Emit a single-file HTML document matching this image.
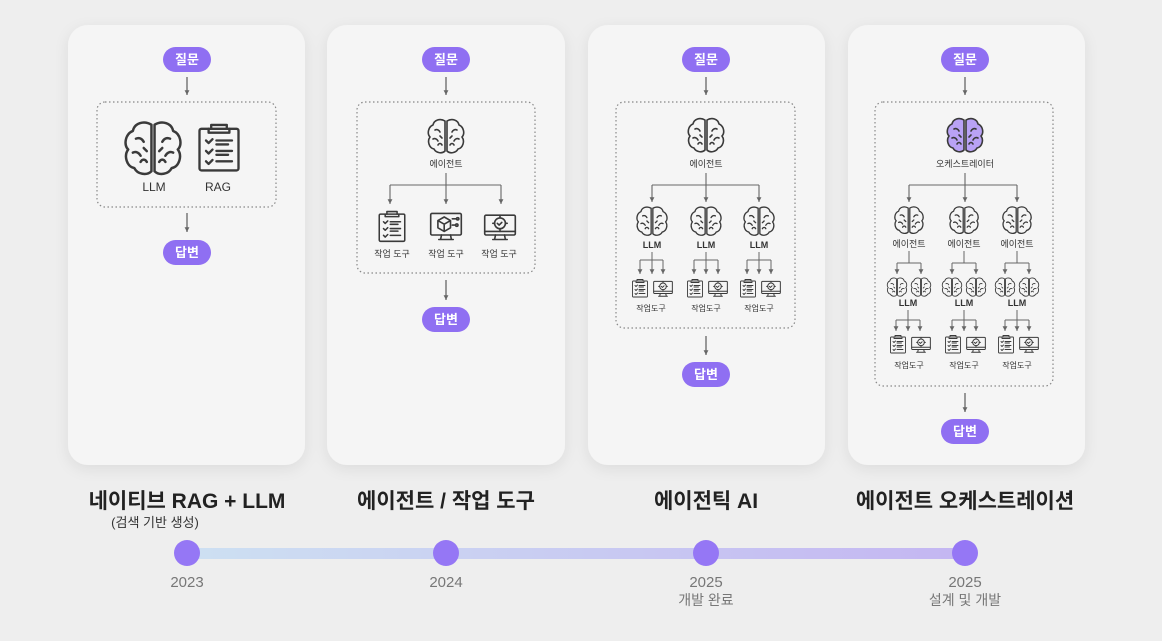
<!DOCTYPE html>
<html><head><meta charset="utf-8"><style>
html,body{margin:0;padding:0;background:#eeeeee;}
svg{display:block;font-family:"Liberation Sans","Noto Sans CJK KR",sans-serif;}
</style></head><body>
<svg width="1162" height="641" viewBox="0 0 1162 641" xmlns="http://www.w3.org/2000/svg">
<defs>
<filter id="sh" x="-20%" y="-20%" width="140%" height="140%"><feDropShadow dx="0" dy="4" stdDeviation="7" flood-color="#000" flood-opacity="0.08"/></filter>
<linearGradient id="tl" x1="0" x2="1"><stop offset="0" stop-color="#cde0f2"/><stop offset="1" stop-color="#c4b6f2"/></linearGradient>
<symbol id="brain" viewBox="0 0 40 40">
<g fill="none" stroke="#3a3a3a" stroke-width="1.6" stroke-linecap="round" stroke-linejoin="round">
<path d="M19 5C14 2 8 4 7 9C2 11 1 18 4 21C1 25 3 32 8 33C10 37 16 38 19 35Z"/>
<path d="M21 5C26 2 32 4 33 9C38 11 39 18 36 21C39 25 37 32 32 33C30 37 24 38 21 35Z"/>
<path d="M9 14C11 13 13 14 14 16M7 23C9 22 11 23 12 25M14 20l2 2M12 29c1-2 3-2 4 0M31 14C29 13 27 14 26 16M33 23C31 22 29 23 28 25M26 20l-2 2M28 29c-1-2-3-2-4 0"/>
</g></symbol>
<symbol id="brainp" viewBox="0 0 40 40">
<g fill="#b9a2f5" stroke="#3a3a3a" stroke-width="1.6" stroke-linecap="round" stroke-linejoin="round">
<path d="M19 5C14 2 8 4 7 9C2 11 1 18 4 21C1 25 3 32 8 33C10 37 16 38 19 35Z"/>
<path d="M21 5C26 2 32 4 33 9C38 11 39 18 36 21C39 25 37 32 32 33C30 37 24 38 21 35Z"/>
<path fill="none" d="M9 14C11 13 13 14 14 16M7 23C9 22 11 23 12 25M14 20l2 2M12 29c1-2 3-2 4 0M31 14C29 13 27 14 26 16M33 23C31 22 29 23 28 25M26 20l-2 2M28 29c-1-2-3-2-4 0"/>
</g></symbol>
<symbol id="clip" viewBox="0 0 40 40">
<g fill="none" stroke="#3a3a3a" stroke-width="1.8" stroke-linecap="round" stroke-linejoin="round">
<rect x="5" y="6" width="30" height="32" rx="1.5"/>
<path d="M14 6V3h12v3M12 6v3h16V6"/>
<path d="M10 15l2 2 3-3M10 23l2 2 3-3M10 31l2 2 3-3M18 15h12M18 18h9M18 23h12M18 26h9M18 31h12"/>
</g></symbol>
<symbol id="mon" viewBox="0 0 40 40">
<g fill="none" stroke="#3a3a3a" stroke-width="1.8" stroke-linecap="round" stroke-linejoin="round">
<rect x="3" y="8" width="34" height="22" rx="1.5"/>
<path d="M3 26h34M15 30l-1 5h12l-1-5M12 35h16"/>
<circle cx="20" cy="17" r="6"/>
<path d="M20 8v2M20 24v2M12 17h2M26 17h2M17 17l2 2 3-3"/>
</g></symbol>
<symbol id="cube" viewBox="0 0 40 40">
<g fill="none" stroke="#3a3a3a" stroke-width="1.8" stroke-linecap="round" stroke-linejoin="round">
<rect x="3" y="6" width="34" height="24" rx="1.5"/>
<path d="M15 30l-1 5h12l-1-5M12 35h16"/>
<path d="M11 14l7-4 7 4v8l-7 4-7-4zM11 14l7 4 7-4M18 18v8M27 12h5M27 19h4"/>
<circle cx="33" cy="12" r="1.3"/><circle cx="32" cy="19" r="1.3"/>
</g></symbol>
<marker id="ar" viewBox="0 0 10 10" refX="9" refY="5" markerWidth="6" markerHeight="6" markerUnits="userSpaceOnUse" orient="auto"><path d="M1 1L9 5L1 9Z" fill="#666"/></marker>
</defs>

<g filter="url(#sh)" fill="#f5f5f5">
<rect x="68" y="25" width="237" height="440" rx="20"/>
<rect x="327" y="25" width="238" height="440" rx="20"/>
<rect x="588" y="25" width="237" height="440" rx="20"/>
<rect x="848" y="25" width="237" height="440" rx="20"/>
</g>

<g fill="#8f6ff2">
<rect x="163" y="47" width="48" height="25" rx="12.5"/><rect x="163" y="240" width="48" height="25" rx="12.5"/>
<rect x="422" y="47" width="48" height="25" rx="12.5"/><rect x="422" y="307" width="48" height="25" rx="12.5"/>
<rect x="682" y="47" width="48" height="25" rx="12.5"/><rect x="682" y="362" width="48" height="25" rx="12.5"/>
<rect x="941" y="47" width="48" height="25" rx="12.5"/><rect x="941" y="419" width="48" height="25" rx="12.5"/>
</g>
<g fill="#fff" font-size="13" font-weight="bold" text-anchor="middle">
<text x="187" y="64">질문</text><text x="187" y="257">답변</text>
<text x="446" y="64">질문</text><text x="446" y="324">답변</text>
<text x="706" y="64">질문</text><text x="706" y="379">답변</text>
<text x="965" y="64">질문</text><text x="965" y="436">답변</text>
</g>

<g stroke="#666" stroke-width="1.3" fill="none" marker-end="url(#ar)">
<path d="M187 77V95"/><path d="M187 213V232"/>
<path d="M446 77V95"/><path d="M446 280V300"/>
<path d="M706 77V95"/><path d="M706 336V355"/>
<path d="M965 77V95"/><path d="M965 393V412"/>
</g>

<g fill="none" stroke="#888" stroke-width="1.2" stroke-dasharray="1.5 2.5">
<rect x="97" y="102" width="179" height="105" rx="8"/>
<rect x="357" y="102" width="178" height="171" rx="8"/>
<rect x="616" y="102" width="179" height="226" rx="8"/>
<rect x="875" y="102" width="178" height="284" rx="8"/>
</g>

<!-- card1 -->
<use href="#brain" x="122" y="117" width="62" height="62"/>
<use href="#clip" x="193" y="117" width="52" height="60"/>
<g font-size="12" fill="#333" text-anchor="middle"><text x="154" y="191">LLM</text><text x="218" y="191">RAG</text></g>

<!-- card2 -->
<use href="#brain" x="426" y="116" width="40" height="40"/>
<text x="446" y="167" font-size="9" fill="#333" text-anchor="middle">에이전트</text>
<g stroke="#666" stroke-width="1.1" fill="none">
<path d="M446 173V185M390 185H501"/>
<g marker-end="url(#ar)"><path d="M390 185V204"/><path d="M446 185V204"/><path d="M501 185V204"/></g>
</g>
<use href="#clip" x="375" y="208" width="34" height="36"/>
<use href="#cube" x="427" y="208" width="38" height="36"/>
<use href="#mon" x="481" y="208" width="38" height="36"/>
<g font-size="9" fill="#333" text-anchor="middle"><text x="392" y="257">작업 도구</text><text x="446" y="257">작업 도구</text><text x="499" y="257">작업 도구</text></g>

<!-- card3 -->
<use href="#brain" x="686" y="115" width="40" height="40"/>
<text x="706" y="167" font-size="9" fill="#333" text-anchor="middle">에이전트</text>
<g stroke="#666" stroke-width="1.1" fill="none">
<path d="M706 173V185M652 185H759"/>
<g marker-end="url(#ar)"><path d="M652 185V202"/><path d="M706 185V202"/><path d="M759 185V202"/></g>
</g>
<g font-size="9" fill="#333" text-anchor="middle" font-weight="bold">
<text x="652" y="248">LLM</text><text x="706" y="248">LLM</text><text x="759" y="248">LLM</text></g>
<g font-size="8" fill="#333" text-anchor="middle">
<text x="651" y="311">작업도구</text><text x="706" y="311">작업도구</text><text x="759" y="311">작업도구</text></g>
<use href="#brain" x="635" y="204" width="34" height="34"/>
<use href="#brain" x="689" y="204" width="34" height="34"/>
<use href="#brain" x="742" y="204" width="34" height="34"/>
<g stroke="#666" stroke-width="1" fill="none">
<path d="M652 252V260M640 260H663M706 252V260M694 260H718M759 252V260M747 260H771"/>
<g marker-end="url(#ar)">
<path d="M640 260V274"/><path d="M652 260V274"/><path d="M663 260V274"/>
<path d="M694 260V274"/><path d="M706 260V274"/><path d="M718 260V274"/>
<path d="M747 260V274"/><path d="M759 260V274"/><path d="M771 260V274"/>
</g>
</g>
<use href="#clip" x="630" y="277" width="20" height="22"/><use href="#mon" x="652" y="277" width="22" height="22"/>
<use href="#clip" x="685" y="277" width="20" height="22"/><use href="#mon" x="707" y="277" width="22" height="22"/>
<use href="#clip" x="738" y="277" width="20" height="22"/><use href="#mon" x="760" y="277" width="22" height="22"/>

<!-- card4 -->
<use href="#brainp" x="945" y="115" width="40" height="40"/>
<text x="965" y="167" font-size="9" fill="#333" text-anchor="middle">오케스트레이터</text>
<g stroke="#666" stroke-width="1.1" fill="none">
<path d="M965 173V185M909 185H1017"/>
<g marker-end="url(#ar)"><path d="M909 185V202"/><path d="M965 185V202"/><path d="M1017 185V202"/></g>
</g>
<use href="#brain" x="893" y="204" width="32" height="32"/>
<use href="#brain" x="948" y="204" width="32" height="32"/>
<use href="#brain" x="1001" y="204" width="32" height="32"/>
<g font-size="9" fill="#333" text-anchor="middle">
<text x="909" y="247">에이전트</text><text x="964" y="247">에이전트</text><text x="1017" y="247">에이전트</text></g>
<g stroke="#666" stroke-width="1" fill="none">
<path d="M909 251V263M897 263H921M964 251V263M952 263H976M1017 251V263M1005 263H1029"/>
<g marker-end="url(#ar)">
<path d="M897 263V274"/><path d="M921 263V274"/><path d="M952 263V274"/>
<path d="M976 263V274"/><path d="M1005 263V274"/><path d="M1029 263V274"/>
</g>
</g>
<use href="#brain" x="886" y="276" width="22" height="22"/><use href="#brain" x="910" y="276" width="22" height="22"/>
<use href="#brain" x="941" y="276" width="22" height="22"/><use href="#brain" x="965" y="276" width="22" height="22"/>
<use href="#brain" x="994" y="276" width="22" height="22"/><use href="#brain" x="1018" y="276" width="22" height="22"/>
<g font-size="9" fill="#333" text-anchor="middle" font-weight="bold">
<text x="908" y="306">LLM</text><text x="964" y="306">LLM</text><text x="1017" y="306">LLM</text></g>
<g stroke="#666" stroke-width="1" fill="none">
<path d="M908 310V320M896 320H920M964 310V320M952 320H976M1017 310V320M1005 320H1029"/>
<g marker-end="url(#ar)">
<path d="M896 320V331"/><path d="M908 320V331"/><path d="M920 320V331"/>
<path d="M952 320V331"/><path d="M964 320V331"/><path d="M976 320V331"/>
<path d="M1005 320V331"/><path d="M1017 320V331"/><path d="M1029 320V331"/>
</g>
</g>
<use href="#clip" x="888" y="333" width="20" height="22"/><use href="#mon" x="910" y="333" width="22" height="22"/>
<use href="#clip" x="943" y="333" width="20" height="22"/><use href="#mon" x="965" y="333" width="22" height="22"/>
<use href="#clip" x="996" y="333" width="20" height="22"/><use href="#mon" x="1018" y="333" width="22" height="22"/>
<g font-size="8" fill="#333" text-anchor="middle">
<text x="909" y="368">작업도구</text><text x="964" y="368">작업도구</text><text x="1017" y="368">작업도구</text></g>

<!-- titles -->
<g font-size="21" font-weight="bold" fill="#222" text-anchor="middle">
<text x="187" y="508">네이티브 RAG + LLM</text>
<text x="446" y="508">에이전트 / 작업 도구</text>
<text x="706" y="508">에이전틱 AI</text>
<text x="965" y="508">에이전트 오케스트레이션</text>
</g>
<text x="155" y="527" font-size="13" fill="#333" text-anchor="middle">(검색 기반 생성)</text>

<rect x="187" y="548" width="778" height="11" fill="url(#tl)"/>
<g fill="#9577f5">
<circle cx="187" cy="553" r="13"/><circle cx="446" cy="553" r="13"/><circle cx="706" cy="553" r="13"/><circle cx="965" cy="553" r="13"/>
</g>
<g font-size="15" fill="#777" text-anchor="middle">
<text x="187" y="587">2023</text><text x="446" y="587">2024</text><text x="706" y="587">2025</text><text x="965" y="587">2025</text>
<text x="706" y="605" font-size="14">개발 완료</text><text x="965" y="605" font-size="14">설계 및 개발</text>
</g>
</svg>
</body></html>
